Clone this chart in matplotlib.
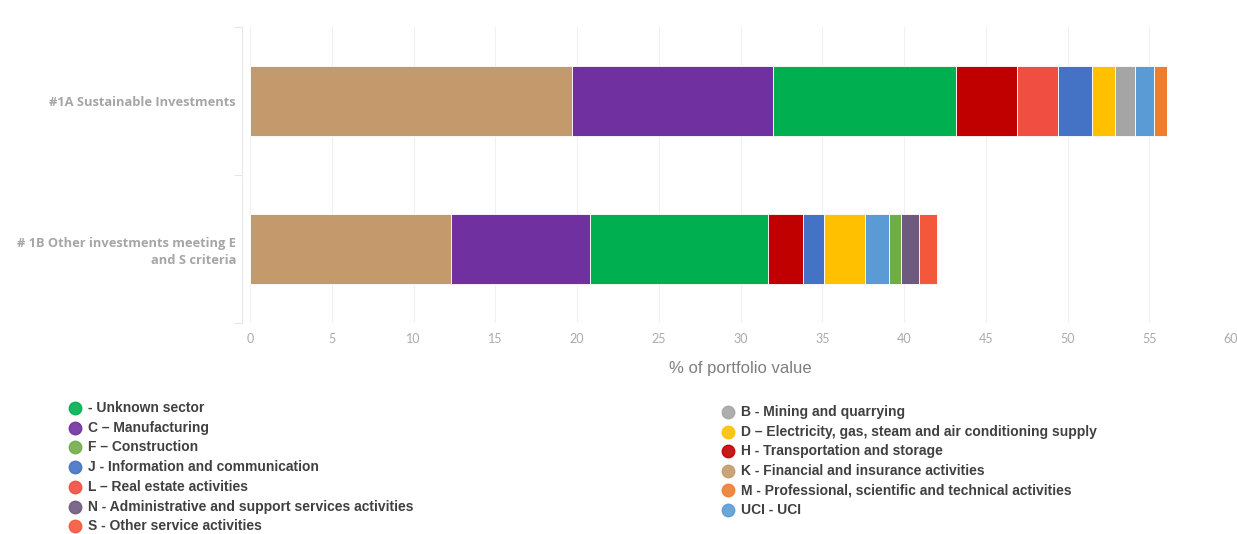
import matplotlib
matplotlib.use("Agg")
import matplotlib.pyplot as plt
import numpy as np

# ---------------- data ----------------
categories = ["#1A Sustainable Investments",
              "# 1B Other investments meeting E\nand S criteria"]

# stacking order (left to right)
sectors = ["K", "C", "Unknown", "H", "L", "J", "D", "B", "UCI", "M", "F", "N", "S"]
sector_colors = {
    "K": "#C49A6C", "C": "#7030A0", "Unknown": "#00B050", "H": "#C00000",
    "L": "#EF4E40", "J": "#4472C4", "D": "#FFC000", "B": "#A5A5A5",
    "UCI": "#5B9BD5", "M": "#ED7D31", "F": "#70AD47", "N": "#6E5A7E",
    "S": "#F4583A",
}
values_1a = {"K": 19.7, "C": 12.3, "Unknown": 11.2, "H": 3.7, "L": 2.5, "J": 2.1,
             "D": 1.4, "B": 1.2, "UCI": 1.2, "M": 0.8, "F": 0.0, "N": 0.0, "S": 0.0}
values_1b = {"K": 12.3, "C": 8.5, "Unknown": 10.9, "H": 2.1, "L": 0.0, "J": 1.3,
             "D": 2.5, "B": 0.0, "UCI": 1.5, "M": 0.0, "F": 0.7, "N": 1.1, "S": 1.1}

x_ticks = [0, 5, 10, 15, 20, 25, 30, 35, 40, 45, 50, 55, 60]
x_label = "% of portfolio value"

legend_left = [("Unknown", "- Unknown sector"), ("C", "C \u2013 Manufacturing"),
               ("F", "F \u2013 Construction"), ("J", "J - Information and communication"),
               ("L", "L \u2013 Real estate activities"),
               ("N", "N - Administrative and support services activities"),
               ("S", "S - Other service activities")]
legend_right = [("B", "B - Mining and quarrying"),
                ("D", "D \u2013 Electricity, gas, steam and air conditioning supply"),
                ("H", "H - Transportation and storage"),
                ("K", "K - Financial and insurance activities"),
                ("M", "M - Professional, scientific and technical activities"),
                ("UCI", "UCI - UCI")]

# ---------------- figure ----------------
W, H = 1237, 534
fig = plt.figure(figsize=(W / 100, H / 100), dpi=100)
fig.patch.set_facecolor("white")

ax_l, ax_r, ax_t, ax_b = 250, 1231, 27, 323
ax = fig.add_axes([ax_l / W, 1 - ax_b / H, (ax_r - ax_l) / W, (ax_b - ax_t) / H])

# spines first (set_position resets ticks)
for sp in ["top", "right", "bottom"]:
    ax.spines[sp].set_visible(False)
ax.spines["left"].set_color("#e8e8e8")
ax.spines["left"].set_position(("outward", 6))

ypos = np.arange(len(categories))
series = [values_1a, values_1b]
left = np.zeros(len(categories))
for s in sectors:
    vals = np.array([ser[s] for ser in series])
    ax.barh(ypos, vals, left=left, height=0.47, color=sector_colors[s],
            edgecolor="white", linewidth=0.6, zorder=3)
    left += vals

ax.set_xlim(0, 60)
ax.set_ylim(1.5, -0.5)

ax.tick_params(axis="x", length=0, pad=7)
ax.tick_params(axis="y", length=0, pad=4)
ax.set_xticks(x_ticks)
ax.set_yticks(ypos)
ax.set_yticks([-0.5, 0.5, 1.5], minor=True)
ax.tick_params(axis="y", which="minor", length=6, color="#e6e6e6", width=0.8)

ax.set_xticklabels([str(t) for t in x_ticks])
ax.set_yticklabels(categories)
for lab in ax.get_xticklabels():
    lab.set_fontsize(9)
    lab.set_color("#aaaaaa")
    lab.set_family(["Liberation Sans Narrow", "Lato", "DejaVu Sans"])
for lab in ax.get_yticklabels():
    lab.set_fontsize(9.3)
    lab.set_fontweight("bold")
    lab.set_color("#a6a6a6")
    lab.set_family(["Open Sans", "DejaVu Sans"])
    lab.set_linespacing(1.3)

ax.grid(axis="x", color="#f0f0f0", linewidth=0.8, zorder=0)

ax.set_xlabel(x_label, fontsize=12, color="#7f7f7f",
              family=["Liberation Sans Narrow", "Liberation Sans", "DejaVu Sans"])
ax.xaxis.set_label_coords(0.5, (ax_b - 368) / (ax_b - ax_t))
ax.xaxis.label.set_va("center")

# ---------------- legend (custom, two columns) ----------------
lg = fig.add_axes([0, 0, 1, 1])
lg.set_xlim(0, W)
lg.set_ylim(H, 0)
lg.axis("off")
lg.patch.set_alpha(0)

def draw_column(entries, mx, tx, y0, step):
    for i, (key, label) in enumerate(entries):
        y = y0 + i * step
        lg.plot([mx], [y], marker="o", ms=9, color=sector_colors[key],
                markeredgecolor=sector_colors[key], alpha=0.9)
        lg.text(tx, y, label, fontsize=10, fontweight="bold", color="#404040",
                va="center", ha="left", family=["Liberation Sans", "DejaVu Sans"])

draw_column(legend_left, 75, 88, 408, 19.7)
draw_column(legend_right, 728, 741, 412, 19.6)

fig.savefig("out.png", dpi=100, facecolor="white")
